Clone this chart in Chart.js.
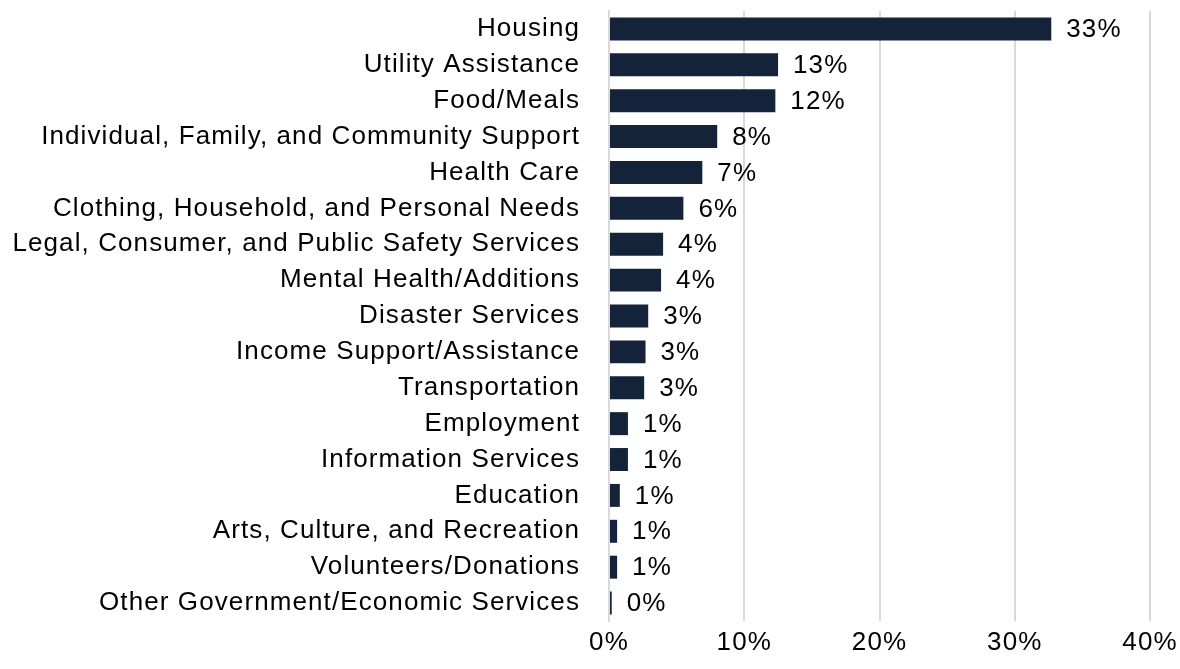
<!DOCTYPE html>
<html>
<head>
<meta charset="utf-8">
<script src="https://cdn.jsdelivr.net/npm/chart.js@4/dist/chart.umd.min.js"></script>
<style>
  html, body { margin: 0; padding: 0; background: #ffffff; }
  #wrap { width: 1180px; height: 669px; position: relative; }
</style>
</head>
<body>
<div id="wrap"><canvas id="chart" width="1180" height="669"></canvas></div>
<script>
// Share of requests by service category (percent)
const categories = [
  "Housing",
  "Utility Assistance",
  "Food/Meals",
  "Individual, Family, and Community Support",
  "Health Care",
  "Clothing, Household, and Personal Needs",
  "Legal, Consumer, and Public Safety Services",
  "Mental Health/Additions",
  "Disaster Services",
  "Income Support/Assistance",
  "Transportation",
  "Employment",
  "Information Services",
  "Education",
  "Arts, Culture, and Recreation",
  "Volunteers/Donations",
  "Other Government/Economic Services"
];
const shares = [32.7, 12.5, 12.3, 8.0, 6.9, 5.5, 4.0, 3.85, 2.9, 2.7, 2.6, 1.4, 1.4, 0.8, 0.6, 0.6, 0.2];
const axisTicks = [0, 10, 20, 30, 40];

const FONT = "'Liberation Sans', Arial, sans-serif";
const FONT_SIZE = 26;
const SPACING = '1.1px';
const barColor = '#14223a';

// Slightly open letter spacing for all canvas text
const textSpacing = {
  id: 'textSpacing',
  beforeUpdate(chart) { chart.ctx.letterSpacing = SPACING; },
  beforeDraw(chart) { chart.ctx.letterSpacing = SPACING; }
};

// Writes the rounded percentage just past the end of each bar
const valueLabels = {
  id: 'valueLabels',
  afterDatasetsDraw(chart) {
    const ctx = chart.ctx;
    const meta = chart.getDatasetMeta(0);
    ctx.save();
    ctx.letterSpacing = SPACING;
    ctx.font = FONT_SIZE + 'px ' + FONT;
    ctx.fillStyle = '#000000';
    ctx.textAlign = 'left';
    ctx.textBaseline = 'middle';
    meta.data.forEach((bar, i) => {
      ctx.fillText(Math.round(shares[i]) + '%', bar.x + 15, bar.y + 1);
    });
    ctx.restore();
  }
};

new Chart(document.getElementById('chart'), {
  type: 'bar',
  data: {
    labels: categories,
    datasets: [{
      data: shares,
      backgroundColor: barColor,
      borderWidth: 0,
      categoryPercentage: 1,
      barPercentage: 0.64
    }]
  },
  options: {
    indexAxis: 'y',
    responsive: false,
    animation: false,
    devicePixelRatio: 1,
    layout: { padding: { top: 11, right: 30, left: 0, bottom: 0 } },
    plugins: { legend: { display: false }, tooltip: { enabled: false } },
    scales: {
      x: {
        min: 0,
        max: 40,
        afterBuildTicks(axis) { axis.ticks = axisTicks.map(v => ({ value: v })); },
        afterFit(axis) {
          axis.height = 48;
          axis.paddingLeft = 0;
          axis.paddingRight = 0;
        },
        grid: { color: '#d9d9d9', lineWidth: 2, drawTicks: false },
        border: { display: false },
        ticks: {
          padding: 6,
          maxRotation: 0,
          color: '#000000',
          font: { family: FONT, size: FONT_SIZE },
          callback: v => v + '%'
        }
      },
      y: {
        afterFit(axis) {
          axis.width = 609;
          axis.paddingTop = 0;
          axis.paddingBottom = 0;
        },
        grid: { display: false, drawTicks: false },
        border: { display: true, color: '#d9d9d9', width: 2 },
        ticks: {
          padding: 29,
          color: '#000000',
          autoSkip: false,
          font: { family: FONT, size: FONT_SIZE }
        }
      }
    }
  },
  plugins: [textSpacing, valueLabels]
});
</script>
</body>
</html>
